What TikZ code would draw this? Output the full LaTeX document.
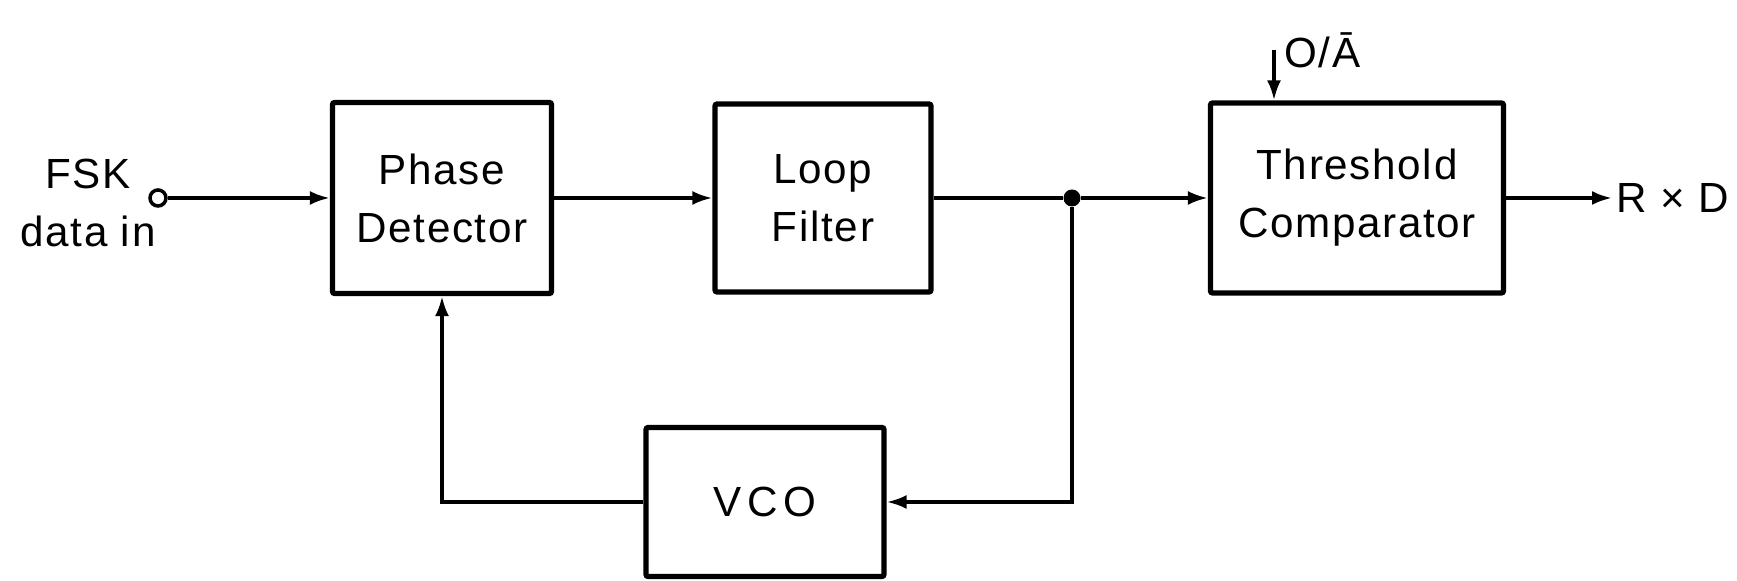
\documentclass[tikz,border=0pt]{standalone}
\usepackage{fontspec}
\setmainfont{Liberation Sans}[LetterSpace=4]
\usetikzlibrary{arrows.meta}

\begin{document}
\begin{tikzpicture}[>={Latex[length=2mm,width=1.4mm]},
  font=\fontsize{12}{16.5}\selectfont,
  blk/.style={draw, line width=1.5pt, rounded corners=0.6pt, align=center, inner sep=0pt},
  wire/.style={line width=1pt},
  jdot/.style={circle, fill, inner sep=0pt, minimum size=0.17cm}]
\useasboundingbox (0,0) rectangle (17.37,5.81);
% blocks
\node[blk, minimum width=2.19cm, minimum height=1.91cm] (pd) at (4.42,3.83) {Phase\\Detector};
\node[blk, minimum width=2.16cm, minimum height=1.88cm] (lf) at (8.23,3.83) {Loop\\Filter};
\node[blk, minimum width=2.93cm, minimum height=1.90cm] (tc) at (13.57,3.83) {Threshold\\Comparator};
\node[blk, minimum width=2.38cm, minimum height=1.49cm] (vco) at (7.65,0.79) {\addfontfeature{LetterSpace=14}VCO};
% input terminal
\node[circle, draw, line width=1pt, minimum size=0.16cm, inner sep=0pt] (in) at (1.58,3.83) {};
\node[align=center] (fsk) at (0.88,3.78) {FSK\\data in};
% junction and control input
\node[jdot] (jn) at (10.72,3.83) {};
\coordinate (oa) at (12.74,5.31);
\node[anchor=west, inner sep=1pt] (oalbl) at (12.80,5.31) {O/Ā};
\node[anchor=west, inner sep=1pt] (rxd) at (16.12,3.83) {R × D};
% connectors
\draw[wire, ->] (in) -- (pd);
\draw[wire, ->] (pd) -- (lf);
\draw[wire] (lf) -- (jn);
\draw[wire, ->] (jn) -- (tc);
\draw[wire, ->] (tc) -- (rxd);
\draw[wire, ->] (oa) -- (oa |- tc.north);
\draw[wire, ->] (jn) |- (vco);
\draw[wire, ->] (vco) -| (pd);
\end{tikzpicture}
\end{document}
